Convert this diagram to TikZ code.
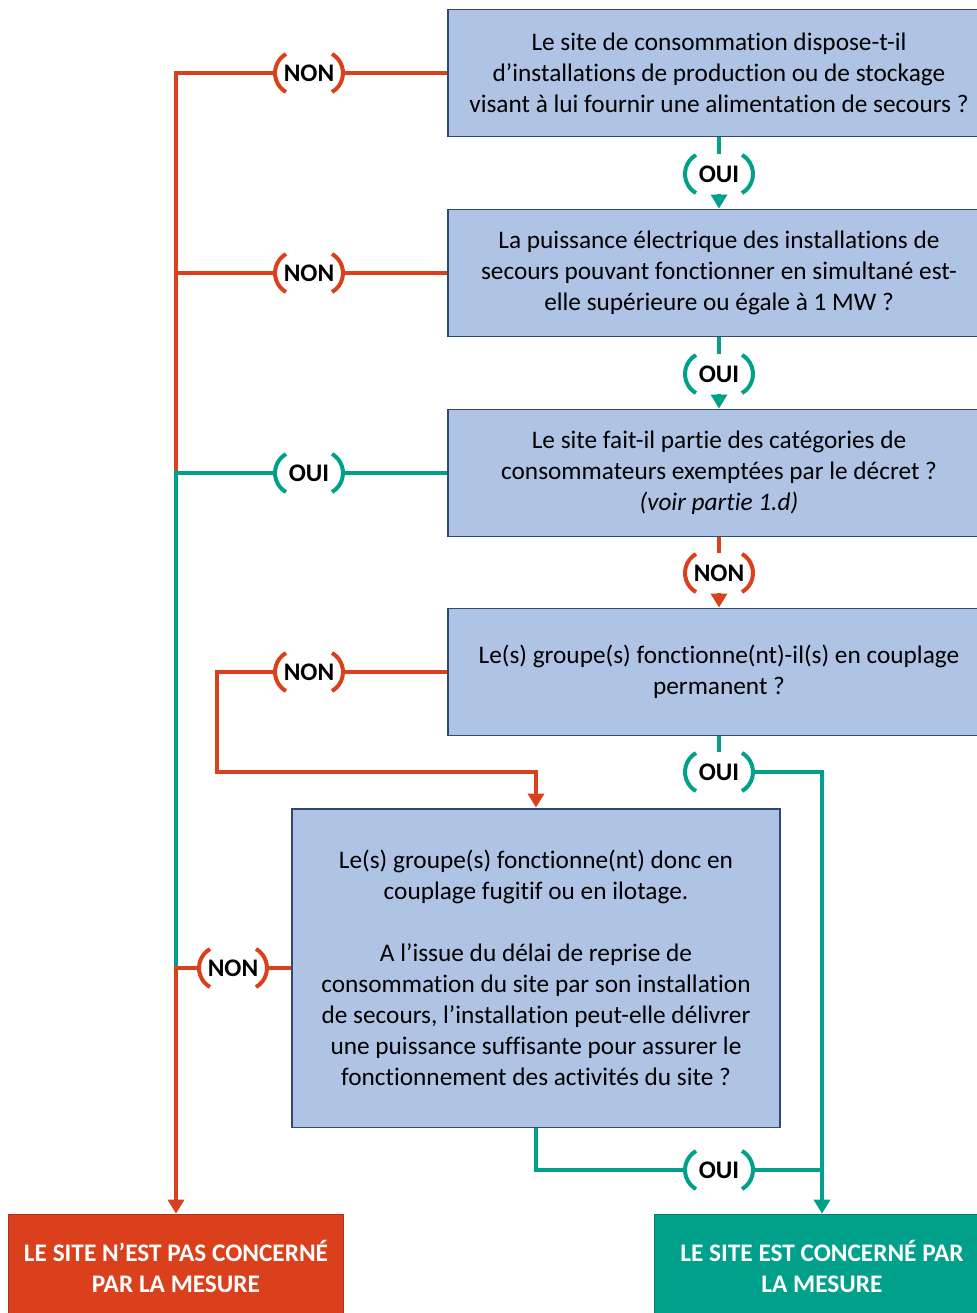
\documentclass[tikz,border=0pt]{standalone}
\usepackage{fontspec}
\setmainfont{Carlito}[Ligatures=NoCommon]
\usetikzlibrary{arrows.meta}
\definecolor{boxblue}{HTML}{AFC4E4}
\definecolor{boxedge}{HTML}{2F4A70}
\definecolor{nonred}{HTML}{DA401C}
\definecolor{ouiteal}{HTML}{00A08A}
\newcommand{\brk}[2]{%
  \draw[#2,line width=0.08cm] ([xshift=-0.24cm]#1.center) ++(120:0.44cm) arc[start angle=120,end angle=240,radius=0.44cm];
  \draw[#2,line width=0.08cm] ([xshift=0.24cm]#1.center) ++(-60:0.44cm) arc[start angle=-60,end angle=60,radius=0.44cm];}

\begin{document}
\begin{tikzpicture}[x=0.02cm,y=-0.02cm,>={Triangle[width=0.32cm,length=0.28cm]},
  question/.style={draw=boxedge,line width=1.1pt,fill=boxblue,rectangle,align=center,minimum width=10.84cm,minimum height=2.54cm,font=\fontsize{14.4}{17.6}\selectfont},
  verdict/.style={rectangle,align=center,minimum height=2.08cm,text=white,font=\fontsize{14.4}{17.6}\selectfont\bfseries},
  answer/.style={rectangle,inner sep=0pt,minimum width=1.36cm,minimum height=0.8cm,font=\fontsize{14.4}{16}\selectfont\bfseries},
  rline/.style={nonred,line width=0.08cm},
  gline/.style={ouiteal,line width=0.08cm}]
\useasboundingbox (0,0) rectangle (977,1313);
\clip (0,0) rectangle (977,1313);
\node[question] (q1) at (719,73)  {Le site de consommation dispose-t-il\\d’installations de production ou de stockage\\visant à lui fournir une alimentation de secours ?};
\node[question] (q2) at (719,273) {La puissance électrique des installations de\\secours pouvant fonctionner en simultané est-\\elle supérieure ou égale à 1 MW ?};
\node[question] (q3) at (719,473) {Le site fait-il partie des catégories de\\consommateurs exemptées par le décret ?\\\textit{(voir partie 1.d)}};
\node[question] (q4) at (719,672) {Le(s) groupe(s) fonctionne(nt)-il(s) en couplage\\permanent ?};
\node[question,minimum width=9.78cm,minimum height=6.38cm] (q5) at (536,968) {Le(s) groupe(s) fonctionne(nt) donc en\\couplage fugitif ou en ilotage.\\[17.6pt]A l’issue du délai de reprise de\\consommation du site par son installation\\de secours, l’installation peut-elle délivrer\\une puissance suffisante pour assurer le\\fonctionnement des activités du site ?};
\node[verdict,fill=nonred,draw=nonred!80!black,minimum width=6.7cm] (endL) at (176,1266) {LE SITE N’EST PAS CONCERNÉ\\PAR LA MESURE};
\node[verdict,fill=ouiteal,draw=ouiteal!80!black,minimum width=6.72cm] (endR) at (822,1266) {LE SITE EST CONCERNÉ PAR\\LA MESURE};
\node[answer] (n1) at (309,73)  {NON};
\node[answer] (n2) at (309,273) {NON};
\node[answer] (o3) at (309,473) {OUI};
\node[answer] (n4) at (309,672) {NON};
\node[answer] (n5) at (233,968) {NON};
\node[answer] (o1) at (719,174) {OUI};
\node[answer] (o2) at (719,374) {OUI};
\node[answer] (n3) at (719,573) {NON};
\node[answer] (o4) at (719,772) {OUI};
\node[answer] (o5) at (719,1170) {OUI};
\coordinate (t1) at (176,73);
\coordinate (t2) at (176,273);
\coordinate (t3) at (176,473);
\coordinate (t5) at (176,968);
\coordinate (k1) at (217,672);
\coordinate (k2) at (217,772);
\coordinate (k3) at (822,772);
\coordinate (k4) at (536,1170);
\coordinate (k5) at (822,1170);
\draw[rline] (q1) -- (n1) -- (t1) -- (t3);
\draw[rline] (q2) -- (n2) -- (t2);
\draw[gline] (q3) -- (o3) -- (t3) -- (t5);
\draw[rline,->] (q5) -- (n5) -- (t5) -- (endL);
\draw[gline] (q1) -- (o1);
\draw[gline,->] (o1) -- (q2);
\draw[gline] (q2) -- (o2);
\draw[gline,->] (o2) -- (q3);
\draw[rline] (q3) -- (n3);
\draw[rline,->] (n3) -- (q4);
\draw[rline] (q4) -- (n4);
\draw[rline,->] (n4) -- (k1) -- (k2) -| (q5);
\draw[gline] (q4) -- (o4);
\draw[gline,->] (o4) -- (k3) -- (endR);
\draw[gline] (q5) -- (k4) -- (o5);
\draw[gline] (o5) -- (k5);
\brk{n1}{nonred}
\brk{n2}{nonred}
\brk{o3}{ouiteal}
\brk{n4}{nonred}
\brk{n5}{nonred}
\brk{o1}{ouiteal}
\brk{o2}{ouiteal}
\brk{n3}{nonred}
\brk{o4}{ouiteal}
\brk{o5}{ouiteal}
\end{tikzpicture}
\end{document}
